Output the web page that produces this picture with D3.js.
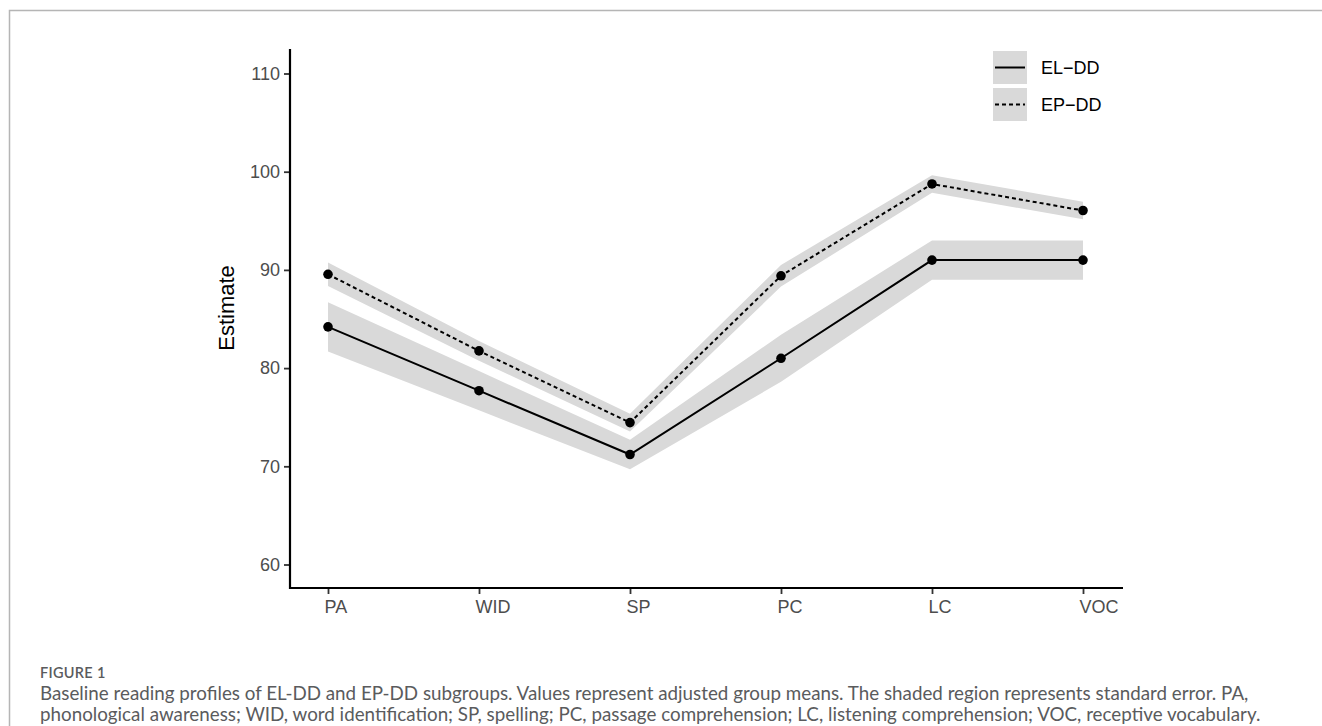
<!DOCTYPE html>
<html>
<head>
<meta charset="utf-8">
<script src="https://cdn.jsdelivr.net/npm/d3@7"></script>
<style>
  body { margin: 0; background: #fff; }
  svg { display: block; }
  .tick-label { font-family: "Liberation Sans", Arial, sans-serif; font-size: 18px; fill: #4d4d4d; }
  .caption { font-family: Lato, "Open Sans", sans-serif; fill: #5a5b5d; }
</style>
</head>
<body>
<svg id="chart" width="1322" height="726"></svg>
<script>
// --- data ---
const categories = ['PA', 'WID', 'SP', 'PC', 'LC', 'VOC'];
const yTicks = [60, 70, 80, 90, 100, 110];
const elddMean = [84.2, 77.7, 71.2, 81.0, 91.0, 91.0];
const elddSE = [2.5, 2.0, 1.5, 2.4, 2.0, 2.0];
const epddMean = [89.55, 81.75, 74.45, 89.4, 98.75, 96.05];
const epddSE = [1.2, 1.0, 0.9, 1.1, 0.9, 0.9];
const groupNames = ['EL\u2212DD', 'EP\u2212DD'];

const groups = [
  { name: groupNames[0], mean: elddMean, se: elddSE, dash: null },
  { name: groupNames[1], mean: epddMean, se: epddSE, dash: '4,3' }
];

const svg = d3.select('#chart');

// frame around the figure
svg.append('path')
  .attr('d', 'M9.5,726 V10.5 H1322')
  .attr('fill', 'none')
  .attr('stroke', '#b5b5b5')
  .attr('stroke-width', 1.5);

const x = d3.scalePoint().domain(categories).range([328, 1083]);
const y = d3.scaleLinear().domain([60, 110]).range([564.5, 73.5]);

const axisLeftX = 290;
const axisBottomY = 588;

// ribbons (standard error)
const area = d3.area()
  .x((d, i) => x(categories[i]))
  .y0(d => y(d.lo))
  .y1(d => y(d.hi));

groups.forEach(g => {
  const band = g.mean.map((m, i) => ({ lo: m - g.se[i], hi: m + g.se[i] }));
  svg.append('path')
    .datum(band)
    .attr('d', area)
    .attr('fill', '#d9d9d9');
});

// lines + points
const line = d3.line().x((d, i) => x(categories[i])).y(d => y(d));

groups.forEach(g => {
  svg.append('path')
    .datum(g.mean)
    .attr('d', line)
    .attr('fill', 'none')
    .attr('stroke', '#000')
    .attr('stroke-width', 2)
    .attr('stroke-dasharray', g.dash);

  svg.selectAll(null)
    .data(g.mean)
    .join('circle')
    .attr('cx', (d, i) => x(categories[i]))
    .attr('cy', d => y(d))
    .attr('r', 4.8)
    .attr('fill', '#000');
});

// --- axes ---
const yAxis = svg.append('g').attr('transform', `translate(${axisLeftX},0)`)
  .call(d3.axisLeft(y).tickValues(yTicks).tickSize(6).tickPadding(4));
const xAxis = svg.append('g').attr('transform', `translate(0,${axisBottomY})`)
  .call(d3.axisBottom(x).tickSize(6).tickPadding(5));

[yAxis, xAxis].forEach(a => {
  a.select('.domain').remove();
  a.selectAll('.tick line').attr('stroke', '#333').attr('stroke-width', 1.8);
  a.selectAll('.tick text').attr('class', 'tick-label').attr('fill', null);
});
xAxis.selectAll('.tick text').attr('text-anchor', 'start').attr('dx', -4).attr('dy', '0.75em');

svg.append('line')
  .attr('x1', axisLeftX).attr('x2', axisLeftX)
  .attr('y1', 49).attr('y2', axisBottomY + 1)
  .attr('stroke', '#000').attr('stroke-width', 2.2);
svg.append('line')
  .attr('x1', axisLeftX - 1).attr('x2', 1123)
  .attr('y1', axisBottomY).attr('y2', axisBottomY)
  .attr('stroke', '#000').attr('stroke-width', 2.2);

svg.append('text')
  .attr('transform', 'translate(234,308) rotate(-90)')
  .attr('text-anchor', 'middle')
  .style('font-family', '"Liberation Sans", Arial, sans-serif')
  .style('font-size', '22px')
  .attr('fill', '#000')
  .text('Estimate');

// --- legend ---
const legend = svg.append('g').attr('transform', 'translate(993,51)');
groups.forEach((g, i) => {
  const row = legend.append('g').attr('transform', `translate(0,${i * 37})`);
  row.append('rect').attr('width', 34).attr('height', 33).attr('fill', '#d9d9d9');
  row.append('line')
    .attr('x1', 2).attr('x2', 32).attr('y1', 16.5).attr('y2', 16.5)
    .attr('stroke', '#000').attr('stroke-width', 2)
    .attr('stroke-dasharray', g.dash);
  row.append('text')
    .attr('x', 48).attr('y', 16.5).attr('dy', '0.35em')
    .style('font-family', '"Liberation Sans", Arial, sans-serif')
    .style('font-size', '18px')
    .attr('fill', '#000')
    .text(g.name);
});

// --- caption ---
svg.append('text')
  .attr('class', 'caption')
  .attr('x', 40).attr('y', 678)
  .style('font-size', '14.5px')
  .style('font-weight', 600)
  .style('letter-spacing', '0.3px')
  .attr('fill', '#6d6e71')
  .text('FIGURE 1');

const captionLines = [
  'Baseline reading profiles of EL-DD and EP-DD subgroups. Values represent adjusted group means. The shaded region represents standard error. PA,',
  'phonological awareness; WID, word identification; SP, spelling; PC, passage comprehension; LC, listening comprehension; VOC, receptive vocabulary.'
];
svg.selectAll('.cap-line')
  .data(captionLines)
  .join('text')
  .attr('class', 'caption cap-line')
  .attr('x', 40)
  .attr('y', (d, i) => 700 + i * 21)
  .style('font-size', '18.8px')
  .text(d => d);
</script>
</body>
</html>
